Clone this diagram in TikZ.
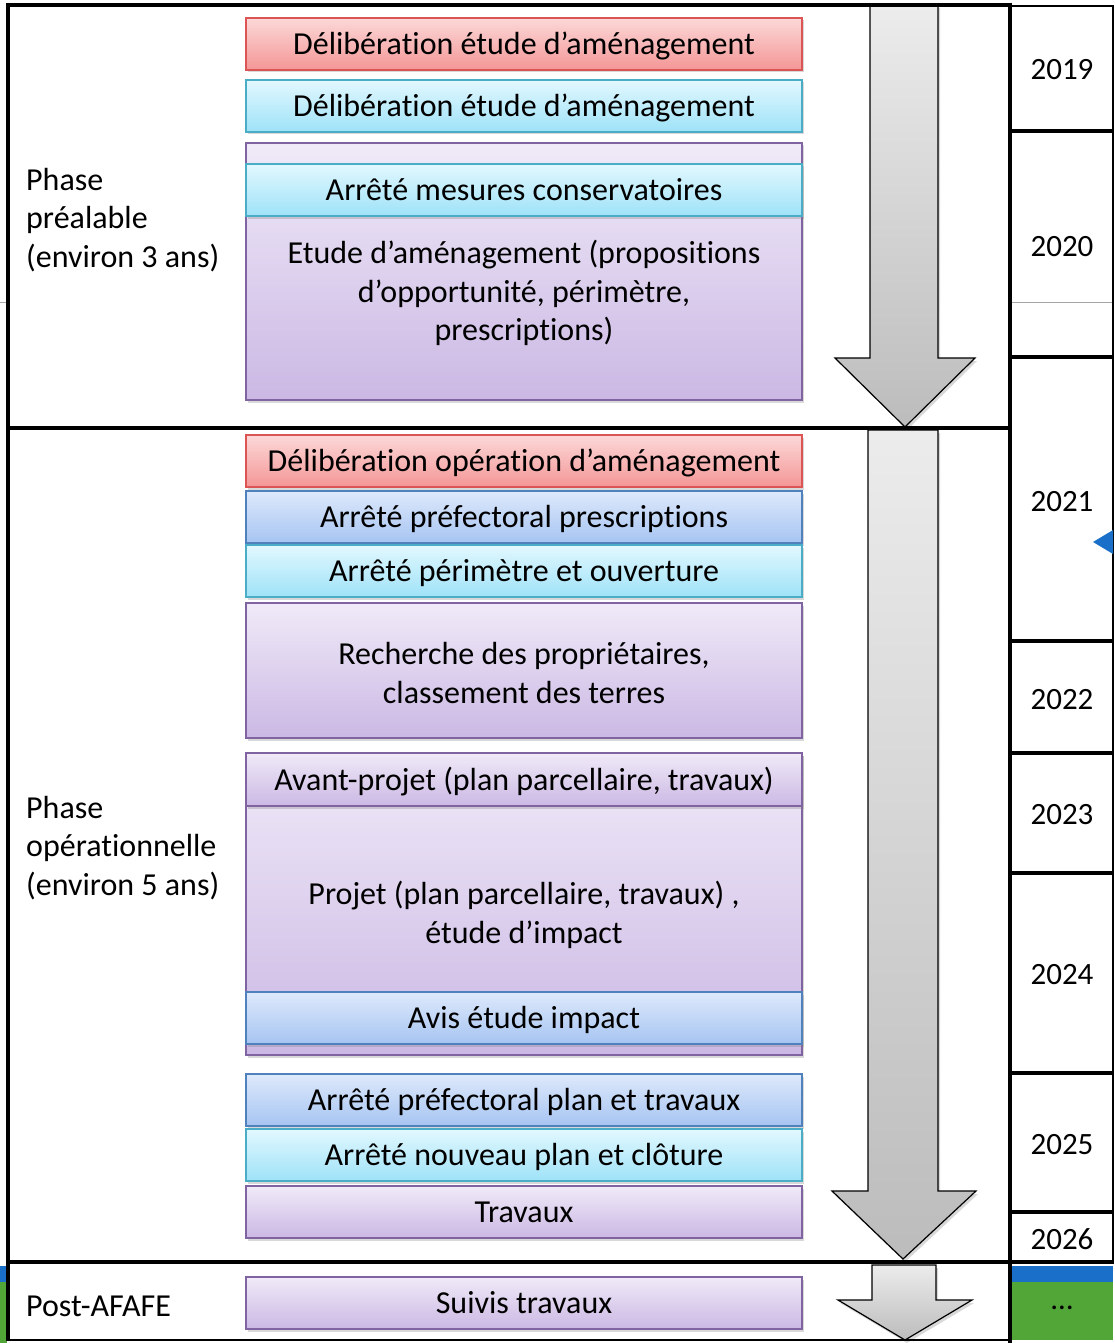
\documentclass[tikz,border=0pt]{standalone}
\usepackage{fontspec}
\setmainfont{Carlito}[Ligatures=NoCommon]
\usetikzlibrary{shadows}
\definecolor{redT}{RGB}{252,216,216}
\definecolor{redBo}{RGB}{244,150,150}
\definecolor{redD}{RGB}{220,85,85}
\definecolor{cyanT}{RGB}{226,248,254}
\definecolor{cyanBo}{RGB}{158,226,248}
\definecolor{cyanD}{RGB}{75,172,198}
\definecolor{blueT}{RGB}{222,233,251}
\definecolor{blueBo}{RGB}{166,196,242}
\definecolor{blueD}{RGB}{79,129,189}
\definecolor{purT}{RGB}{240,234,248}
\definecolor{purBo}{RGB}{203,184,228}
\definecolor{purD}{RGB}{128,100,162}
\definecolor{arrT}{RGB}{236,236,236}
\definecolor{arrB}{RGB}{188,188,188}
\definecolor{tri}{RGB}{26,112,200}
\definecolor{grn}{RGB}{82,166,56}
\begin{document}
\begin{tikzpicture}[x=1pt,y=-1pt,
  box/.style={draw, line width=1.4pt, minimum width=556pt, inner sep=0pt,
    font=\fontsize{32}{38.5}\selectfont, align=center,
    drop shadow={shadow xshift=1.5pt, shadow yshift=-2.5pt, opacity=0.3}},
  oneline/.style={text height=27pt, text depth=6pt},
  redbox/.style={box, draw=redD, top color=redT, bottom color=redBo},
  cyanbox/.style={box, draw=cyanD, top color=cyanT, bottom color=cyanBo},
  bluebox/.style={box, draw=blueD, top color=blueT, bottom color=blueBo},
  purbox/.style={box, draw=purD, top color=purT, bottom color=purBo},
  txt/.style={font=\fontsize{32}{38.5}\selectfont, align=center, inner sep=0pt},
  lbl/.style={font=\fontsize{32}{38.5}\selectfont, align=left, inner sep=0pt, anchor=west},
  yr/.style={font=\fontsize{31}{36}\selectfont, inner sep=0pt},
  bigarrow/.style={draw=black, line width=1.2pt, top color=arrT, bottom color=arrB,
    drop shadow={shadow xshift=2pt, shadow yshift=-3pt, opacity=0.3}},
  frame/.style={line width=4.5pt, black},
]
\useasboundingbox (0,0) rectangle (1115,1343);
\fill[white] (0,0) rectangle (1115,1343);

% side fragments
\draw[gray!70, line width=1pt] (0,302) -- (7,302);
\fill[tri] (0,1266) rectangle (7,1282);
\fill[grn] (0,1282) rectangle (7,1343);

% arrows
\path[bigarrow] (870,5) -- (938,5) -- (938,358) -- (975,358) -- (905,427) -- (835,358) -- (870,358) -- cycle;
\path[bigarrow] (868,430) -- (938,430) -- (938,1191) -- (976,1191) -- (903,1259) -- (832,1191) -- (868,1191) -- cycle;
\path[bigarrow] (872,1265) -- (936,1265) -- (936,1300) -- (972,1300) -- (905,1340) -- (838,1300) -- (872,1300) -- cycle;

% Phase préalable boxes
\node[redbox, oneline, minimum height=52pt] (r1) at (524,44) {Délibération étude d’aménagement};
\node[cyanbox, oneline, minimum height=52pt] (c1) at (524,106) {Délibération étude d’aménagement};
\node[purbox, minimum height=257pt] (p1) at (524,271.5) {};
\node[cyanbox, oneline, minimum height=52pt] (c2) at (524,190) {Arrêté mesures conservatoires};
\node[txt] (t1) at (524,293) {Etude d’aménagement (propositions\\d’opportunité, périmètre,\\prescriptions)};

% Phase opérationnelle boxes
\node[redbox, oneline, minimum height=52pt] (r2) at (524,461) {Délibération opération d’aménagement};
\node[bluebox, oneline, minimum height=52pt] (b1) at (524,517) {Arrêté préfectoral prescriptions};
\node[cyanbox, oneline, minimum height=52pt] (c3) at (524,571) {Arrêté périmètre et ouverture};
\node[purbox, minimum height=135pt] (p2) at (524,670.5) {};
\node[txt] (t3) at (524,673) {Recherche des propriétaires,\\classement des terres};
\node[purbox, minimum height=302pt] (p3) at (524,904) {};
\node[purbox, oneline, minimum height=53pt] (p4) at (524,779.5) {Avant-projet (plan parcellaire, travaux)};
\node[txt] (t2) at (524,915) {Projet (plan parcellaire, travaux) ,\\étude d’impact};
\node[bluebox, oneline, minimum height=52pt] (b2) at (524,1018) {Avis étude impact};
\node[bluebox, oneline, minimum height=52pt] (b3) at (524,1100) {Arrêté préfectoral plan et travaux};
\node[cyanbox, oneline, minimum height=52pt] (c4) at (524,1155) {Arrêté nouveau plan et clôture};
\node[purbox, oneline, minimum height=52pt] (p5) at (524,1212) {Travaux};
\node[purbox, oneline, minimum height=52pt] (p6) at (524,1303) {Suivis travaux};

% left labels
\node[lbl] (l1) at (26,220) {Phase\\préalable\\(environ 3 ans)};
\node[lbl] (l2) at (26,848) {Phase\\opérationnelle\\(environ 5 ans)};
\node[lbl] (l3) at (26,1306) {Post-AFAFE};

% year column
\fill[tri] (1012,1266) rectangle (1113,1282);
\fill[grn] (1012,1282) rectangle (1113,1340);
\draw[gray!70, line width=1pt] (1012,302) -- (1113,302);
\draw[line width=1.5pt] (1010,6) -- (1113,6) -- (1113,1264);
\foreach \yy in {131,357,641,753,873,1073,1212,1262}
  \draw[frame] (1010,\yy) -- (1113,\yy);
\fill[tri] (1113,530) -- (1093,542) -- (1113,554) -- cycle;
\node[yr] (y19) at (1062,70) {2019};
\node[yr] (y20) at (1062,247) {2020};
\node[yr] (y21) at (1062,502) {2021};
\node[yr] (y22) at (1062,700) {2022};
\node[yr] (y23) at (1062,815) {2023};
\node[yr] (y24) at (1062,975) {2024};
\node[yr] (y25) at (1062,1145) {2025};
\node[yr] (y26) at (1062,1239) {2026};
\node[yr] (ydots) at (1062,1308) {…};

% frames
\draw[frame] (8,5) -- (1010,5);
\draw[frame] (8,428) -- (1010,428);
\draw[frame] (8,1262) -- (1010,1262);
\draw[line width=2pt] (8,1340) -- (1010,1340);
\draw[frame] (8,3) -- (8,1341);
\draw[frame] (1010,3) -- (1010,1343);
\end{tikzpicture}
\end{document}
